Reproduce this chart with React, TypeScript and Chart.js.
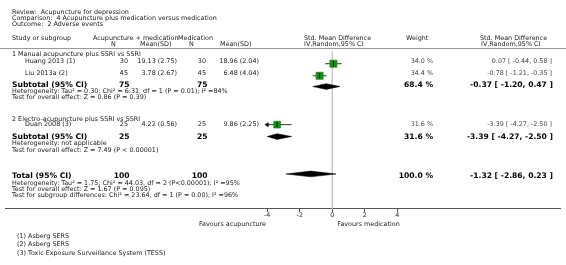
import React, { useEffect, useRef } from "react";
import { Chart, registerables } from "chart.js";

Chart.register(...registerables);

// ---------------- DATA ----------------
const titleLines = [
  "Review:  Acupuncture for depression",
  "Comparison:  4 Acupuncture plus medication versus medication",
  "Outcome:  2 Adverse events",
];
const subgroups = [
  "1 Manual acupuncture plus SSRI vs SSRI",
  "2 Electro-acupuncture plus SSRI vs SSRI",
];
const studies = ["Huang 2013 (1)", "Liu 2013a (2)", "Duan 2008 (3)"];
const expN = [30, 45, 25];
const expMeanSD = ["19.13 (2.75)", "3.78 (2.67)", "4.22 (0.56)"];
const ctlN = [30, 45, 25];
const ctlMeanSD = ["18.96 (2.04)", "6.48 (4.04)", "9.86 (2.25)"];
const weights = [34.0, 34.4, 31.6];
const smd = [0.07, -0.78, -3.39];
const ciLow = [-0.44, -1.21, -4.27];
const ciHigh = [0.58, -0.35, -2.5];

const pooledLabels = ["Subtotal (95% CI)", "Subtotal (95% CI)", "Total (95% CI)"];
const pooledExpN = [75, 25, 100];
const pooledCtlN = [75, 25, 100];
const pooledWeight = [68.4, 31.6, 100.0];
const pooledSmd = [-0.37, -3.39, -1.32];
const pooledLow = [-1.2, -4.27, -2.86];
const pooledHigh = [0.47, -2.5, 0.23];
const hetText = [
  "Heterogeneity: Tau\u00b2 = 0.30; Chi\u00b2 = 6.31, df = 1 (P = 0.01); I\u00b2 =84%",
  "Heterogeneity: not applicable",
  "Heterogeneity: Tau\u00b2 = 1.75; Chi\u00b2 = 44.03, df = 2 (P<0.00001); I\u00b2 =95%",
];
const overallText = [
  "Test for overall effect: Z = 0.86 (P = 0.39)",
  "Test for overall effect: Z = 7.49 (P < 0.00001)",
  "Test for overall effect: Z = 1.67 (P = 0.095)",
];
const subgroupText =
  "Test for subgroup differences: Chi\u00b2 = 23.64, df = 1 (P = 0.00), I\u00b2 =96%";
const footnotes = [
  "(1) Asberg SERS",
  "(2) Asberg SERS",
  "(3) Toxic Exposure Surveillance System (TESS)",
];
const xTicks = [-4, -2, 0, 2, 4];
const axisMin = -4;
const axisMax = 4;
const favoursLeft = "Favours acupuncture";
const favoursRight = "Favours medication";

// ---------------- LAYOUT ----------------
const W = 566;
const H = 265;
const FONT = "'DejaVu Sans', Verdana, sans-serif";
const FS = 6.4;
const FS_BOLD = 7.6;
const ZERO_PX = 333.3;
const PX_PER_UNIT = 16.6;
const X_MIN = -ZERO_PX / PX_PER_UNIT;
const X_MAX = (W - ZERO_PX) / PX_PER_UNIT;
const HEADER_LINE_Y = 48;
const AXIS_Y = 212;
const TITLE_Y = [12.3, 18.3, 24.3];
const HEAD1_Y = 37.5;
const HEAD2_Y = 43.5;
const GROUP_Y = [54, 118.5];
const STUDY_Y = [60.7, 73.3, 124.3];
const POOLED_Y = [84.5, 136.7, 175.8];
const FOOT_Y = [235.5, 244, 252.5];
const FAVOURS_Y = 223.5;
const DIAMOND_HALF = 3;
const SQUARE_SCALE = 0.85;

const COL = {
  name: 12,
  study: 25,
  expNHead: 111,
  expN: 128,
  expMeanHead: 140,
  expMean: 177,
  ctlNHead: 189,
  ctlN: 206,
  ctlMeanHead: 220,
  ctlMean: 259,
  smdHead: 304,
  weightHead: 406,
  weight: 433,
  ciHead: 480,
  ci: 552,
  expGroupHead: 93,
  ctlGroupHead: 178,
};

const f2 = (v: number) => v.toFixed(2);
const ciStr = (m: number, l: number, h: number) => `${f2(m)} [ ${f2(l)}, ${f2(h)} ]`;
const clampX = (v: number) => Math.min(axisMax, Math.max(axisMin, v));

type TProps = {
  x: number;
  y: number;
  text: string | number;
  align?: "left" | "right" | "center";
  bold?: boolean;
  color?: string;
  size?: number;
};

function T({ x, y, text, align = "left", bold = false, color, size }: TProps) {
  const tx = align === "right" ? "-100%" : align === "center" ? "-50%" : "0";
  return (
    <div
      style={{
        position: "absolute",
        left: x,
        top: y,
        transform: `translate(${tx}, -50%)`,
        whiteSpace: "pre",
        fontFamily: FONT,
        fontSize: size ?? (bold ? FS_BOLD : FS),
        fontWeight: bold ? "bold" : "normal",
        lineHeight: 1,
        color: color ?? (bold ? "#000" : "#222"),
      }}
    >
      {text}
    </div>
  );
}

export default function App() {
  const ref = useRef<HTMLCanvasElement | null>(null);

  useEffect(() => {
    if (!ref.current) return;
    const datasets: any[] = [];

    // zero line
    datasets.push({
      type: "line",
      data: [
        { x: 0, y: HEADER_LINE_Y },
        { x: 0, y: AXIS_Y },
      ],
      borderColor: "#c8c8c8",
      borderWidth: 1,
      pointRadius: 0,
      order: 9,
    });

    // whiskers
    studies.forEach((_, i) => {
      datasets.push({
        type: "line",
        data: [
          { x: clampX(ciLow[i]), y: STUDY_Y[i] },
          { x: clampX(ciHigh[i]), y: STUDY_Y[i] },
        ],
        borderColor: "#333",
        borderWidth: 1,
        pointRadius: 0,
        order: 5,
      });
    });

    // arrows for clipped CIs
    const arrows: any[] = [];
    const arrowRot: number[] = [];
    studies.forEach((_, i) => {
      if (ciLow[i] < axisMin) {
        arrows.push({ x: axisMin, y: STUDY_Y[i] });
        arrowRot.push(-90);
      }
      if (ciHigh[i] > axisMax) {
        arrows.push({ x: axisMax, y: STUDY_Y[i] });
        arrowRot.push(90);
      }
    });
    datasets.push({
      type: "scatter",
      data: arrows,
      pointStyle: "triangle",
      pointRadius: 2.3,
      rotation: arrowRot,
      backgroundColor: "#000",
      borderColor: "#000",
      borderWidth: 0.5,
      order: 4,
    });

    // squares
    datasets.push({
      type: "scatter",
      data: studies.map((_, i) => ({ x: smd[i], y: STUDY_Y[i] })),
      pointStyle: "rect",
      pointRadius: weights.map((w) => SQUARE_SCALE * Math.sqrt(w)),
      backgroundColor: "#0a9a0a",
      borderColor: "#067a06",
      borderWidth: 0.6,
      order: 2,
    });

    // centre ticks
    datasets.push({
      type: "scatter",
      data: studies.map((_, i) => ({ x: smd[i], y: STUDY_Y[i] })),
      pointStyle: "line",
      rotation: 90,
      pointRadius: 2.6,
      borderColor: "#000",
      borderWidth: 1,
      order: 1,
    });

    // diamonds
    pooledSmd.forEach((m, i) => {
      const y = POOLED_Y[i];
      const lo = clampX(pooledLow[i]);
      const hi = clampX(pooledHigh[i]);
      datasets.push({
        type: "line",
        data: [
          { x: lo, y },
          { x: m, y: y - DIAMOND_HALF },
          { x: hi, y },
          { x: m, y: y + DIAMOND_HALF },
          { x: lo, y },
        ],
        borderColor: "#000",
        backgroundColor: "#000",
        borderWidth: 0.5,
        pointRadius: 0,
        fill: "shape",
        order: 3,
      });
    });

    const chart = new Chart(ref.current, {
      type: "scatter",
      data: { datasets },
      options: {
        animation: false,
        responsive: false,
        devicePixelRatio: 1,
        events: [],
        layout: { padding: 0 },
        plugins: {
          legend: { display: false },
          tooltip: { enabled: false },
          title: { display: false },
        },
        scales: {
          x: {
            type: "linear",
            min: X_MIN,
            max: X_MAX,
            position: { y: AXIS_Y } as any,
            afterBuildTicks: (s: any) => {
              s.ticks = xTicks.map((v) => ({ value: v }));
            },
            ticks: {
              autoSkip: false,
              maxRotation: 0,
              padding: 0,
              color: "#333",
              font: { family: "DejaVu Sans", size: FS },
              callback: (v: any) => String(v),
            },
            grid: {
              drawOnChartArea: false,
              drawTicks: true,
              tickLength: 3,
              color: "#555",
            },
            border: { display: true, color: "#555", width: 1 },
          },
          y: {
            type: "linear",
            min: 0,
            max: H,
            reverse: true,
            display: false,
          },
        },
      } as any,
    });
    return () => chart.destroy();
  }, []);

  const texts: React.ReactNode[] = [];
  let k = 0;
  const add = (p: TProps) => texts.push(<T key={k++} {...p} />);

  titleLines.forEach((t, i) => add({ x: COL.name, y: TITLE_Y[i], text: t }));

  // headers
  add({ x: COL.name, y: HEAD1_Y, text: "Study or subgroup" });
  add({ x: COL.expGroupHead, y: HEAD1_Y, text: "Acupuncture + medication" });
  add({ x: COL.ctlGroupHead, y: HEAD1_Y, text: "Medication" });
  add({ x: COL.expNHead, y: HEAD2_Y, text: "N" });
  add({ x: COL.expMeanHead, y: HEAD2_Y, text: "Mean(SD)" });
  add({ x: COL.ctlNHead, y: HEAD2_Y, text: "N" });
  add({ x: COL.ctlMeanHead, y: HEAD2_Y, text: "Mean(SD)" });
  add({ x: COL.smdHead, y: HEAD1_Y, text: "Std. Mean Difference" });
  add({ x: COL.smdHead, y: HEAD2_Y, text: "IV,Random,95% CI" });
  add({ x: COL.weightHead, y: HEAD1_Y, text: "Weight" });
  add({ x: COL.ciHead, y: HEAD1_Y, text: "Std. Mean Difference" });
  add({ x: COL.ciHead + 1, y: HEAD2_Y, text: "IV,Random,95% CI" });

  subgroups.forEach((s, i) => add({ x: COL.name, y: GROUP_Y[i], text: s }));

  studies.forEach((s, i) => {
    const y = STUDY_Y[i];
    add({ x: COL.study, y, text: s });
    add({ x: COL.expN, y, text: expN[i], align: "right" });
    add({ x: COL.expMean, y, text: expMeanSD[i], align: "right" });
    add({ x: COL.ctlN, y, text: ctlN[i], align: "right" });
    add({ x: COL.ctlMean, y, text: ctlMeanSD[i], align: "right" });
    add({ x: COL.weight, y, text: `${weights[i].toFixed(1)} %`, align: "right", color: "#444" });
    add({ x: COL.ci, y, text: ciStr(smd[i], ciLow[i], ciHigh[i]), align: "right", color: "#444" });
  });

  pooledLabels.forEach((lab, i) => {
    const y = POOLED_Y[i];
    add({ x: COL.name, y, text: lab, bold: true });
    add({ x: COL.expN + 1.5, y, text: pooledExpN[i], align: "right", bold: true });
    add({ x: COL.ctlN + 1.5, y, text: pooledCtlN[i], align: "right", bold: true });
    add({ x: COL.weight, y, text: `${pooledWeight[i].toFixed(1)} %`, align: "right", bold: true });
    add({ x: COL.ci + 1, y, text: ciStr(pooledSmd[i], pooledLow[i], pooledHigh[i]), align: "right", bold: true });
    add({ x: COL.name, y: y + 6.7, text: hetText[i] });
    add({ x: COL.name, y: y + 12.9, text: overallText[i] });
  });
  add({ x: COL.name, y: POOLED_Y[2] + 19.3, text: subgroupText });

  add({ x: ZERO_PX + axisMin * PX_PER_UNIT - 1, y: FAVOURS_Y, text: favoursLeft, align: "right" });
  add({ x: ZERO_PX + 4, y: FAVOURS_Y, text: favoursRight });

  footnotes.forEach((f, i) => add({ x: 17, y: FOOT_Y[i], text: f }));

  return (
    <div
      style={{
        position: "fixed",
        left: 0,
        top: 0,
        width: W,
        height: H,
        background: "#fff",
        overflow: "hidden",
      }}
    >
      <div
        style={{
          position: "absolute",
          left: 0,
          top: HEADER_LINE_Y,
          width: W,
          height: 0,
          borderTop: "1px solid #999",
        }}
      />
      <canvas
        ref={ref}
        width={W}
        height={H}
        style={{ position: "absolute", left: 0, top: 0, width: W, height: H }}
      />
      {texts}
    </div>
  );
}
